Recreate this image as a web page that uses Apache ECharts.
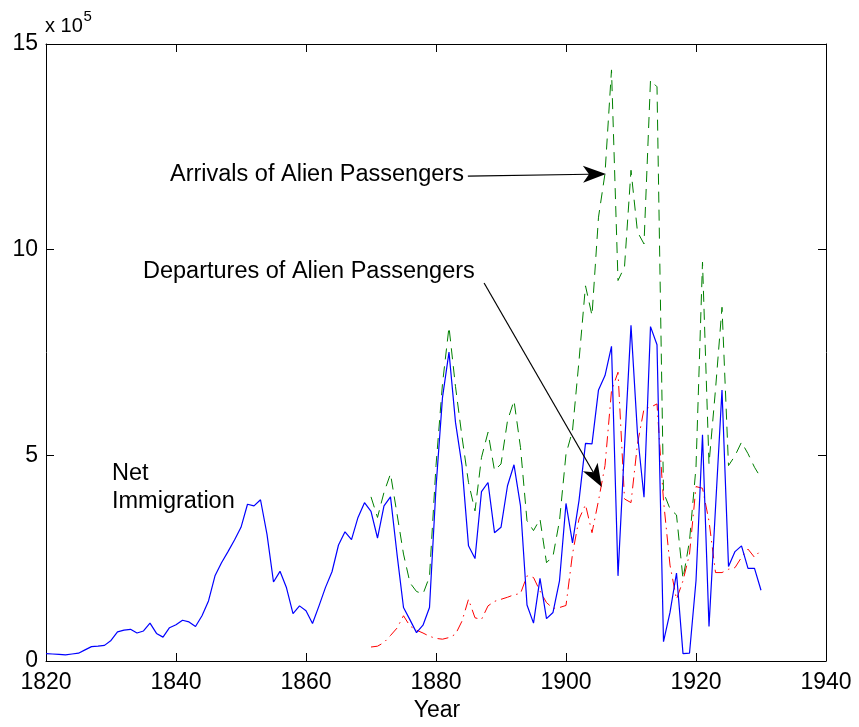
<!DOCTYPE html>
<html><head><meta charset="utf-8">
<script src="https://cdn.jsdelivr.net/npm/echarts@6/dist/echarts.min.js"></script>
<style>html,body{margin:0;padding:0;background:#fff}#c{width:859px;height:727px}</style>
</head><body><div id="c"></div>
<script>
// ---- Data (values in units of 10^5) ----
const netStartYear = 1820;
const netImmigration = [
  0.18,0.17,0.16,0.15,0.17,0.19,0.27,0.35,0.36,0.38,
  0.50,0.71,0.75,0.77,0.68,0.73,0.92,0.67,0.58,0.81,
  0.88,0.99,0.95,0.84,1.10,1.46,2.07,2.39,2.66,2.94,
  3.25,3.81,3.77,3.92,3.08,1.92,2.18,1.78,1.15,1.34,
  1.22,0.91,1.34,1.79,2.17,2.82,3.14,2.95,3.49,3.85,
  3.64,2.99,3.77,3.99,2.60,1.30,1.00,0.69,0.87,1.30,
  4.22,6.41,7.51,5.80,4.75,2.80,2.49,4.12,4.34,3.12,
  3.25,4.26,4.77,3.77,1.36,0.92,2.01,1.03,1.18,1.95,
  3.83,2.87,3.90,5.29,5.28,6.59,6.94,7.65,2.07,5.20,
  8.16,5.52,3.98,8.13,7.69,0.47,1.18,2.14,0.18,0.19,
  1.95,5.50,0.84,3.72,6.59,2.30,2.66,2.80,2.25,2.25,
  1.72
];
const arrStartYear = 1870;
const arrivals = [
  3.99,3.49,4.10,4.55,3.58,2.60,1.90,1.69,1.63,2.05,
  4.75,6.74,8.12,6.67,5.45,4.34,3.65,4.95,5.56,4.63,
  4.79,5.84,6.33,5.19,3.41,3.17,3.45,2.39,2.55,3.41,
  5.03,5.60,7.30,9.12,8.40,10.79,11.85,14.37,9.25,9.58,
  11.93,10.43,10.14,14.12,13.96,4.10,3.70,3.55,2.00,2.92,
  4.71,9.70,4.79,6.60,8.60,4.75,4.99,5.32,5.04,4.71,
  4.45
];
const depStartYear = 1870;
const departures = [
  0.34,0.36,0.45,0.62,0.80,1.10,0.85,0.75,0.68,0.60,
  0.55,0.53,0.57,0.65,0.97,1.50,1.05,1.01,1.34,1.45,
  1.50,1.55,1.61,1.64,2.07,2.03,1.70,1.42,1.28,1.30,
  1.35,2.60,3.45,3.80,3.12,3.90,4.75,6.57,7.02,3.94,
  3.85,5.28,6.13,6.17,6.25,3.90,2.33,1.50,1.95,2.60,
  4.24,4.20,3.40,2.15,2.15,2.23,2.27,2.52,2.72,2.52,
  2.70
];
const xTicks = [1820, 1840, 1860, 1880, 1900, 1920, 1940];
const yTicks = [0, 5, 10, 15];

function pairs(start, vals){ return vals.map((v,i)=>[start+i, v]); }

const FONT = "'Liberation Sans', Arial, Helvetica, sans-serif";
const chart = echarts.init(document.getElementById('c'), null, {renderer:'canvas'});

const axisLineStyle = {color:'#000', width:1};
const baseX = {
  type:'value', min:xTicks[0], max:xTicks[xTicks.length-1], interval:20,
  axisLine:{show:true, onZero:false, lineStyle:axisLineStyle},
  axisTick:{show:true, inside:true, length:8, lineStyle:axisLineStyle},
  splitLine:{show:false}
};
const baseY = {
  type:'value', min:yTicks[0], max:yTicks[yTicks.length-1], interval:5,
  axisLine:{show:true, onZero:false, lineStyle:axisLineStyle},
  axisTick:{show:true, inside:true, length:8, lineStyle:axisLineStyle},
  splitLine:{show:false}
};

chart.setOption({
  animation:false,
  backgroundColor:'#fff',
  grid:{left:46, right:33, top:44, bottom:66, containLabel:false},
  xAxis:[
    Object.assign({}, baseX, {position:'bottom',
      axisLabel:{show:true, margin:10, color:'#000', fontSize:23, fontFamily:FONT,
        formatter:function(v){ return String(v); }}}),
    Object.assign({}, baseX, {position:'top', axisLabel:{show:false}})
  ],
  yAxis:[
    Object.assign({}, baseY, {position:'left',
      axisLabel:{show:true, margin:8, color:'#000', fontSize:23, fontFamily:FONT,
        formatter:function(v){ return String(v); }}}),
    Object.assign({}, baseY, {position:'right', axisLabel:{show:false}})
  ],
  series:[
    {name:'Arrivals', type:'line', data:pairs(arrStartYear, arrivals), showSymbol:false, symbol:'none',
      lineStyle:{color:'#008000', width:1, type:[11,7]}, z:2},
    {name:'Departures', type:'line', data:pairs(depStartYear, departures), showSymbol:false, symbol:'none',
      lineStyle:{color:'#ff0000', width:1, type:[11,5,1.5,5]}, z:3},
    {name:'Net', type:'line', data:pairs(netStartYear, netImmigration), showSymbol:false, symbol:'none',
      lineStyle:{color:'#0000ff', width:1.2}, z:4}
  ]
});

// ---- Annotations ----
function px(x, y){ return chart.convertToPixel({xAxisIndex:0, yAxisIndex:0}, [x, y]); }
function arrow(p0, p1){
  const dx=p1[0]-p0[0], dy=p1[1]-p0[1], L=Math.hypot(dx,dy);
  const ux=dx/L, uy=dy/L, nx=-uy, ny=ux;
  const len=23, w=8.5, notch=17;
  return [
    {type:'line', shape:{x1:p0[0], y1:p0[1], x2:p1[0]-ux*notch, y2:p1[1]-uy*notch},
      style:{stroke:'#000', lineWidth:1.2}, z:10},
    {type:'polygon', shape:{points:[
      [p1[0], p1[1]],
      [p1[0]-ux*len+nx*w, p1[1]-uy*len+ny*w],
      [p1[0]-ux*notch, p1[1]-uy*notch],
      [p1[0]-ux*len-nx*w, p1[1]-uy*len-ny*w]
    ]}, style:{fill:'#000'}, z:10}
  ];
}
function txt(s, x, y, size, align){
  return {type:'text', x:x, y:y, z:11, style:{text:s, font:size+'px '+FONT, fill:'#000',
    align:align||'left', verticalAlign:'middle', textAlign:align||'left', textVerticalAlign:'middle'}};
}
const a1 = arrow(px(1884.9, 11.79), px(1906.15, 11.84));
const a2 = arrow(px(1887.4, 9.19), px(1905.5, 4.23));
chart.setOption({
  graphic:[].concat(a1, a2, [
    txt('Arrivals of Alien Passengers', 170, 175, 23.5),
    txt('Departures of Alien Passengers', 143, 271.5, 23.5),
    txt('Net', 112, 473.5, 23.5),
    txt('Immigration', 112, 501.5, 23.5),
    txt('x 10', 45, 26, 20),
    txt('5', 83.5, 17, 15),
    txt('Year', 437, 711, 23, 'center')
  ])
});
</script>
</body></html>
